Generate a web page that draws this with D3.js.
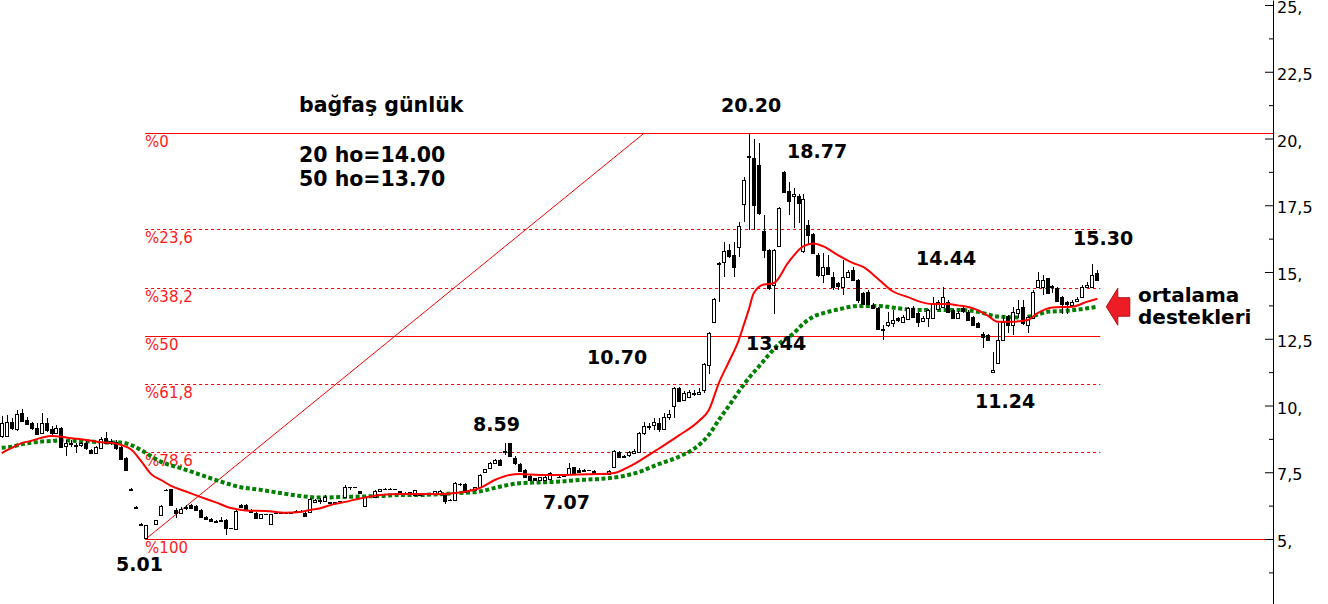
<!DOCTYPE html>
<html><head><meta charset="utf-8">
<script src="https://cdn.jsdelivr.net/npm/d3@7"></script>
<style>body{margin:0;background:#fff}svg{display:block}</style>
</head><body><svg id="c" width="1328" height="604"></svg>
<script>
// ---- data (daily candles, index 0..220) ----
const opens=[8.86,8.86,9.38,9.12,9.72,9.46,9.35,9.16,8.97,9.35,
9.12,8.97,9.16,8.48,8.60,8.52,8.52,8.60,8.33,8.22,
8.41,8.78,8.67,8.63,8.45,8.03,6.87,6.21,5.57,5.02,
null,5.56,5.90,6.85,6.86,6.09,5.97,6.17,6.27,6.24,
6.09,5.82,5.74,5.67,5.69,5.71,5.41,5.37,6.27,6.27,
6.09,5.97,5.79,5.94,5.56,5.98,5.97,5.98,5.97,6.05,
6.06,5.97,5.99,6.40,6.46,6.44,6.37,6.35,6.40,6.59,
6.93,6.92,6.78,6.24,6.59,6.59,6.78,6.88,6.89,6.87,
6.78,6.72,6.74,6.65,6.65,6.67,6.68,6.65,6.65,6.65,
6.46,6.46,7.05,7.07,6.84,6.81,6.94,7.48,7.69,7.86,
7.97,8.30,8.58,8.04,7.82,7.58,7.36,7.27,7.21,7.21,
7.24,7.42,7.34,7.36,7.43,7.69,7.58,7.55,7.56,7.56,
7.42,7.41,7.46,7.69,8.26,8.11,8.11,8.24,8.26,8.97,
9.19,9.27,9.36,9.12,9.58,9.96,10.65,10.18,10.33,10.43,
10.46,10.56,11.49,13.12,15.30,15.39,15.82,15.64,15.92,17.54,
19.35,19.26,19.01,16.54,15.82,14.51,15.98,18.75,18.05,17.82,
17.85,15.76,16.76,16.42,15.64,14.89,15.20,14.82,14.58,14.45,
14.82,15.07,14.70,14.20,14.26,13.76,13.64,12.86,13.01,13.08,
13.27,13.14,13.23,13.64,13.45,13.14,13.27,13.27,13.64,13.68,
13.89,13.58,13.30,13.64,13.51,13.30,13.08,12.68,12.64,11.27,
11.60,12.45,13.35,13.01,13.45,13.68,13.01,13.30,14.43,14.45,
14.76,14.48,14.39,14.07,13.89,13.76,13.89,14.07,14.45,14.43,
14.95];
const highs=[9.61,9.64,9.53,9.83,9.87,9.57,9.38,9.35,9.72,9.53,
9.23,9.27,9.20,8.71,8.71,8.60,8.63,8.71,8.37,8.48,
8.82,9.01,8.75,8.71,8.48,8.07,6.90,6.23,5.59,5.52,
null,5.71,6.27,6.86,6.86,6.17,6.20,6.27,6.32,6.27,
6.12,5.86,5.79,5.71,5.82,5.75,5.42,6.09,6.30,6.30,
6.12,6.01,5.94,5.95,5.94,5.99,6.00,6.01,5.99,6.08,
6.09,6.01,6.54,6.50,6.54,6.65,6.40,6.40,6.44,7.02,
6.94,6.94,6.80,6.61,6.62,6.84,6.88,6.91,6.91,6.89,
6.80,6.75,6.77,6.84,6.67,6.70,6.70,6.80,6.84,6.69,
6.49,7.13,7.09,7.09,6.86,6.95,7.43,7.62,7.88,7.99,
8.01,8.60,8.59,8.11,7.85,7.62,7.40,7.28,7.32,7.36,
7.50,7.45,7.36,7.39,7.86,7.70,7.65,7.62,7.60,7.58,
7.44,7.44,7.58,8.33,8.31,8.15,8.31,8.36,9.01,9.40,
9.36,9.52,9.52,9.71,9.83,10.71,10.70,10.56,10.58,10.58,
10.65,11.60,12.75,14.03,15.37,16.14,16.05,16.14,16.87,18.57,
20.20,19.98,19.82,17.14,15.86,15.86,17.44,18.77,18.38,18.15,
17.92,17.92,16.95,16.46,15.71,15.70,15.64,15.01,14.63,15.45,
15.07,15.20,14.74,14.25,14.33,13.84,13.69,13.01,13.51,13.58,
13.31,13.39,13.69,13.73,13.50,13.35,13.61,14.07,13.95,14.44,
13.95,13.61,13.54,13.69,13.58,13.35,13.13,12.76,12.68,12.02,
13.08,13.39,13.39,13.70,13.95,13.95,13.35,14.33,15.01,14.89,
14.78,14.51,14.44,14.10,13.91,13.95,14.06,14.51,14.63,15.30,
15.07];
const lows=[8.78,8.82,9.08,9.04,9.38,9.27,9.08,8.90,8.93,9.01,
8.90,8.93,8.41,8.11,8.45,8.22,8.45,8.33,8.18,8.18,
8.37,8.56,8.52,8.33,7.96,7.55,6.83,6.17,5.53,5.01,
null,5.56,5.90,6.83,6.24,5.79,5.95,6.09,6.14,6.05,
5.79,5.71,5.64,5.64,5.67,5.15,5.39,5.37,6.17,6.05,
5.97,5.75,5.75,5.92,5.56,5.96,5.95,5.95,5.96,6.03,
6.03,5.82,5.97,6.35,6.31,6.42,6.33,6.33,6.37,6.57,
6.84,6.91,6.69,6.20,6.57,6.57,6.76,6.87,6.87,6.84,
6.67,6.71,6.72,6.65,6.63,6.66,6.66,6.63,6.63,6.31,
6.44,6.42,6.99,6.76,6.82,6.80,6.91,7.47,7.67,7.85,
7.77,8.15,8.08,7.77,7.55,7.28,7.21,7.17,7.19,7.19,
7.21,7.40,7.32,7.35,7.41,7.47,7.47,7.52,7.54,7.40,
7.40,7.40,7.43,7.67,8.04,8.04,8.08,8.22,8.22,8.90,
9.07,9.08,9.02,9.12,9.46,9.52,10.13,10.17,10.32,10.36,
10.45,10.46,11.18,13.09,13.88,14.83,15.52,14.80,15.57,16.88,
16.57,16.57,17.14,15.52,14.33,13.44,15.94,17.96,17.14,16.65,
16.84,15.71,16.05,15.67,14.81,14.58,14.89,14.33,14.33,14.14,
14.81,14.66,13.84,13.76,13.76,13.61,12.83,12.45,12.94,12.95,
13.13,13.09,13.20,13.28,12.94,13.11,12.95,13.25,13.61,13.65,
13.50,13.25,13.28,13.46,13.16,12.98,12.90,12.14,12.42,11.24,
11.59,12.42,12.70,12.64,13.27,13.01,12.70,13.28,14.41,14.14,
14.16,14.20,13.88,13.42,13.42,13.73,13.88,14.05,14.41,14.41,
14.66];
const closes=[9.35,9.38,9.16,9.68,9.42,9.31,9.16,8.93,9.35,9.08,
8.97,9.16,8.45,8.60,8.56,8.50,8.60,8.41,8.22,8.45,
8.75,8.60,8.60,8.41,8.00,7.58,6.85,6.19,5.55,5.52,
null,5.71,6.24,6.84,6.27,5.97,6.12,6.21,6.17,6.09,
5.82,5.74,5.67,5.64,5.73,5.41,5.40,6.05,6.20,6.09,
6.01,5.79,5.94,5.93,5.94,5.97,5.98,5.97,5.98,6.06,
6.05,5.86,6.49,6.46,6.44,6.59,6.35,6.37,6.41,6.96,
6.93,6.93,6.72,6.59,6.60,6.80,6.87,6.89,6.88,6.86,
6.69,6.73,6.75,6.84,6.64,6.68,6.67,6.78,6.78,6.44,
6.47,7.09,7.06,6.78,6.83,6.94,7.40,7.61,7.86,7.96,
7.79,8.28,8.11,7.86,7.56,7.31,7.22,7.21,7.31,7.33,
7.48,7.43,7.33,7.37,7.65,7.48,7.52,7.58,7.57,7.43,
7.41,7.42,7.56,8.28,8.09,8.06,8.24,8.31,8.97,9.24,
9.24,9.40,9.15,9.58,9.68,10.65,10.17,10.46,10.52,10.48,
10.52,11.55,12.70,13.98,15.33,15.80,15.60,15.20,16.72,18.45,
19.33,17.51,17.22,15.82,14.39,15.82,17.39,18.01,17.67,17.91,
17.58,17.72,16.39,15.70,14.89,15.20,14.95,14.45,14.45,14.82,
15.01,14.70,13.95,13.80,13.80,13.64,12.85,12.83,13.14,13.20,
13.18,13.33,13.64,13.30,13.10,13.27,13.58,13.85,13.89,14.07,
13.51,13.27,13.48,13.51,13.20,13.01,12.93,12.55,12.45,11.33,
12.45,13.14,13.01,13.51,13.61,13.08,13.30,14.26,14.70,14.70,
14.20,14.43,13.89,13.80,13.83,13.89,13.98,14.45,14.51,14.89,
14.70];

// 20-day moving average (read at candle indices)
const ma20Idx=[0,2,4,6,8,10,12,14,16,18,20,22,24,26,28,30,32,34,37,40,43,46,49,53,57,60,62,64,66,69,72,76,80,84,88,91,93,96,99,102,104,108,112,116,120,123,126,128,132,136,140,142,144,146,148,149,150,151,153,155,158,161,163,165,168,171,173,176,179,182,184,187,190,192,195,198,200,203,206,208,211,215,218,220];
const ma20Val=[8.22,8.41,8.59,8.68,8.79,8.86,8.83,8.77,8.74,8.68,8.62,8.60,8.52,8.35,7.92,7.43,7.21,6.99,6.78,6.57,6.37,6.16,6.07,6.05,5.98,6.01,6.09,6.15,6.27,6.39,6.52,6.65,6.69,6.69,6.68,6.72,6.77,6.91,7.21,7.40,7.43,7.40,7.40,7.42,7.43,7.47,7.71,7.92,8.39,8.88,9.42,9.83,10.84,11.63,12.45,13.01,13.58,14.20,14.53,14.58,15.37,15.97,16.07,15.96,15.62,15.33,15.19,14.74,14.27,14.06,13.91,13.80,13.80,13.75,13.64,13.37,13.14,13.14,13.20,13.46,13.67,13.70,13.89,14.00];
// 50-day moving average
const ma50Idx=[0,2,4,6,8,10,12,14,16,18,20,24,26,28,32,36,40,44,48,52,56,60,64,68,72,76,80,84,88,92,96,100,104,108,112,116,120,124,128,132,136,140,142,144,146,148,150,152,154,156,159,161,163,165,168,172,176,180,184,188,192,196,200,204,207,210,214,218,220];
const ma50Val=[8.42,8.46,8.55,8.61,8.65,8.67,8.70,8.68,8.67,8.65,8.62,8.61,8.52,8.33,7.89,7.65,7.40,7.15,6.94,6.84,6.72,6.61,6.55,6.57,6.59,6.61,6.65,6.65,6.68,6.72,6.78,6.96,7.09,7.12,7.15,7.21,7.25,7.33,7.51,7.81,8.08,8.52,8.90,9.46,9.98,10.52,11.02,11.45,11.89,12.30,12.70,13.07,13.33,13.46,13.60,13.73,13.73,13.64,13.58,13.58,13.58,13.51,13.33,13.30,13.35,13.51,13.55,13.64,13.70];

// Fibonacci retracement
const fibHigh=20.20, fibLow=5.01, fibStartIdx=29, diagEndIdx=129;
const fibRatios=[0,0.236,0.382,0.5,0.618,0.786,1];
const fibLabels=["%0","%23,6","%38,2","%50","%61,8","%78,6","%100"];
const fibSolid=[true,false,false,true,false,false,true];
const fibToAxis=[true,false,false,false,false,false,true];

// axis ticks
const yTicks=[5,7.5,10,12.5,15,17.5,20,22.5,25];
const yMinor=[3.75,6.25,8.75,11.25,13.75,16.25,18.75,21.25,23.75];

// ---- drawing ----
const W=1328,H=604, axisX=1273.5;
const svg=d3.select("#c");
const x=d3.scaleLinear().domain([0,220]).range([1.7,1097.3]);
const yb=d3.scaleLinear().domain([5,20]).range([539,138.5]);
const y=d3.scaleLinear().domain([yb.invert(H),yb.invert(0)]).range([H,0]);
const crisp=v=>Math.round(v)+0.5;

// fib lines
const fibG=svg.append("g");
const x0=x(fibStartIdx)-1, xEnd=x(220)+3;
fibRatios.forEach((r,k)=>{
  const lv=fibHigh-r*(fibHigh-fibLow);
  const yy=crisp(y(lv));
  fibG.append("line").attr("x1",x0).attr("x2",fibToAxis[k]?axisX:xEnd)
    .attr("y1",yy).attr("y2",yy).attr("stroke","#ff0000").attr("stroke-width",1)
    .attr("stroke-dasharray",fibSolid[k]?null:"3 3");
  fibG.append("text").attr("x",x0).attr("y",yy+13).text(fibLabels[k])
    .attr("fill","#ff1a1a").attr("font-family","DejaVu Sans, Verdana, sans-serif").attr("font-size",15);
});
// diagonal
fibG.append("line").attr("x1",x(fibStartIdx)).attr("y1",y(fibLow))
  .attr("x2",x(diagEndIdx)).attr("y2",y(fibHigh)).attr("stroke","#ff0000").attr("stroke-width",1);

// moving averages
const line=d3.line().x(d=>x(d[0])).y(d=>y(d[1])).curve(d3.curveMonotoneX);
svg.append("path").attr("d",line(ma50Idx.map((v,k)=>[v,ma50Val[k]])))
  .attr("fill","none").attr("stroke","#008000").attr("stroke-width",4).attr("stroke-dasharray","4 2.5");

// candles
const candles=d3.range(opens.length).map(i=>({i,o:opens[i],h:highs[i],l:lows[i],c:closes[i]})).filter(d=>d.o!=null);
const cg=svg.append("g").attr("shape-rendering","crispEdges");
cg.selectAll("line.w").data(candles).join("line")
  .attr("x1",d=>Math.round(x(d.i))+0.5).attr("x2",d=>Math.round(x(d.i))+0.5)
  .attr("y1",d=>y(d.h)).attr("y2",d=>Math.max(y(d.l),y(d.h)+1)).attr("stroke","#000");
cg.selectAll("rect").data(candles).join("rect")
  .attr("x",d=>Math.round(x(d.i))-1.5).attr("width",3)
  .attr("y",d=>Math.round(y(Math.max(d.o,d.c)))+0.5)
  .attr("height",d=>Math.max(0.01,Math.round(Math.abs(y(d.o)-y(d.c)))))
  .attr("fill",d=>d.c>=d.o?"#fff":"#000").attr("stroke","#000").attr("stroke-width",1);

svg.append("path").attr("d",line(ma20Idx.map((v,k)=>[v,ma20Val[k]])))
  .attr("fill","none").attr("stroke","#ff0000").attr("stroke-width",2);

// axis
const fmt=d=>Number.isInteger(d)?d+",":String(d).replace(".",",");
const ax=svg.append("g").attr("transform",`translate(${axisX-0.5},0)`)
  .call(d3.axisRight(y).tickValues(yTicks).tickSizeInner(-8).tickSizeOuter(0).tickPadding(4).tickFormat(fmt));
ax.selectAll("text").attr("dy","0.47em").attr("font-family","DejaVu Sans, Verdana, sans-serif").attr("font-size",16).attr("fill","#000");
ax.select(".domain").attr("stroke","#000");
const axm=svg.append("g").attr("transform",`translate(${axisX-0.5},0)`)
  .call(d3.axisRight(y).tickValues(yMinor).tickSizeInner(-4).tickSizeOuter(0).tickFormat(""));
axm.select(".domain").remove();

// annotations
const F="DejaVu Sans, Verdana, sans-serif";
const notes=[
 ["bağfaş günlük",299,112,20.5],["20 ho=14.00",299,162,20.5],["50 ho=13.70",299,186,20.5],
 ["20.20",721,112,19],["18.77",787,158,19],["15.30",1073,245,19],["14.44",916,265,19],
 ["13.44",746,350,19],["10.70",587,364,19],["8.59",473,431,19],["7.07",543,509,19],
 ["11.24",975,408,19],["5.01",116,571,19],
 ["ortalama",1138,302,20],["destekleri",1138,324,20]
];
svg.append("g").selectAll("text").data(notes).join("text")
  .attr("x",d=>d[1]).attr("y",d=>d[2]).attr("font-size",d=>d[3]).text(d=>d[0])
  .attr("font-family",F).attr("font-weight","bold").attr("fill","#000");

// arrow pointing at the averages
const tx=x(220)+9, ty=y(ma50Val[ma50Val.length-1]);
svg.append("path").attr("d",`M${tx},${ty} L${tx+11.5},${ty-18.5} L${tx+11.5},${ty-9} L${tx+23.5},${ty-9} L${tx+23.5},${ty+9.5} L${tx+11.5},${ty+9.5} L${tx+11.5},${ty+18.5} Z`)
  .attr("fill","#ee1c25").attr("stroke","#b0141a").attr("stroke-width",1);
</script></body></html>
